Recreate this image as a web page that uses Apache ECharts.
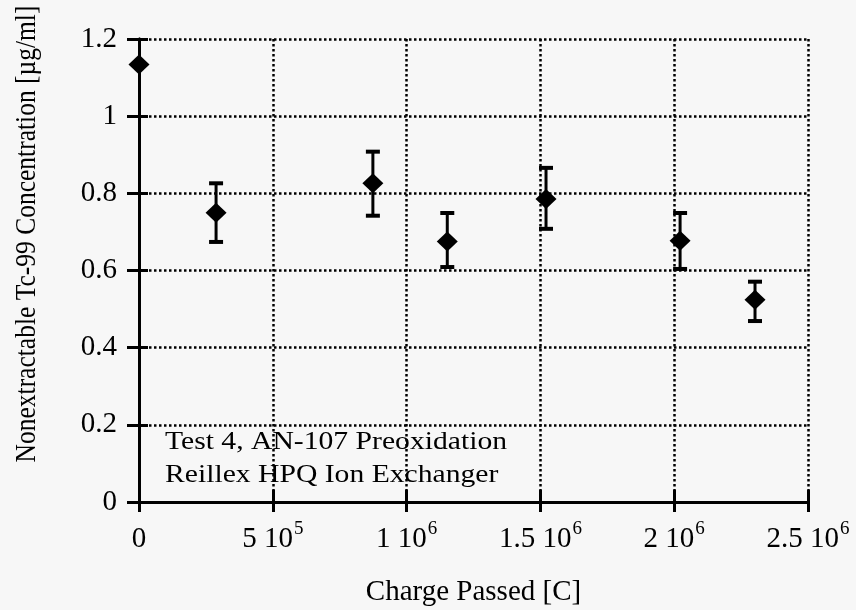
<!DOCTYPE html>
<html>
<head>
<meta charset="utf-8">
<script src="https://cdn.jsdelivr.net/npm/echarts@6/dist/echarts.min.js"></script>
<style>
  html, body { margin: 0; padding: 0; background: #f7f7f7; }
  #chart { width: 856px; height: 610px; }
</style>
</head>
<body>
<div id="chart"></div>
<script>
// Charge passed [C] at each sample
const chargePassed = [0, 288000, 874000, 1152000, 1521000, 2022000, 2302000];
// Nonextractable Tc-99 concentration [µg/ml]
const concentration = [1.134, 0.750, 0.826, 0.675, 0.785, 0.677, 0.524];
// Error bar bounds (null where no bar is drawn)
const errLower = [null, 0.674, 0.742, 0.609, 0.708, 0.604, 0.469];
const errUpper = [null, 0.826, 0.908, 0.749, 0.866, 0.749, 0.571];
// X tick labels as mantissa / exponent pairs
const xTickMantissa = { 0: '0', 500000: '5', 1000000: '1', 1500000: '1.5', 2000000: '2', 2500000: '2.5' };
const xTickExponent = { 500000: '5', 1000000: '6', 1500000: '6', 2000000: '6', 2500000: '6' };
const annotationLines = ['Test 4, AN-107 Preoxidation', 'Reillex HPQ Ion Exchanger'];

const serif = "'Liberation Serif', 'Times New Roman', serif";
const ink = '#000';

const points = chargePassed.map((x, i) => [x, concentration[i]]);
const bars = chargePassed
  .map((x, i) => [x, errLower[i], errUpper[i]])
  .filter(d => d[1] != null);

const dotted = { color: ink, width: 2.5, type: [2.5, 2.5] };

const chart = echarts.init(document.getElementById('chart'));

chart.setOption({
  backgroundColor: '#f7f7f7',
  animation: false,
  grid: { left: 139, top: 39, right: 48, bottom: 108, show: false, containLabel: false, outerBoundsMode: 'none' },
  xAxis: [{
    type: 'value', min: 0, max: 2500000, interval: 500000,
    name: 'Charge Passed [C]', nameLocation: 'middle', nameGap: 76,
    nameTextStyle: { fontFamily: serif, fontSize: 29, color: ink },
    axisLine: { lineStyle: { color: ink, width: 3 } },
    axisTick: { inside: true, length: 12, lineStyle: { color: ink, width: 3 } },
    splitLine: { show: true, lineStyle: dotted },
    axisLabel: {
      margin: 18,
      formatter: v => {
        const m = xTickMantissa[v];
        const e = xTickExponent[v];
        return e ? '{b|' + m + ' 10}{s|' + e + '}' : '{b|' + m + '}';
      },
      rich: {
        b: { fontFamily: serif, fontSize: 29, color: ink, lineHeight: 34, verticalAlign: 'bottom' },
        s: { fontFamily: serif, fontSize: 19, color: ink, lineHeight: 34, verticalAlign: 'top', padding: [0, 0, 14, 1] }
      }
    }
  }, {
    type: 'value', position: 'top', min: 0, max: 2500000, interval: 500000,
    axisLine: { show: true, lineStyle: { color: ink, width: 3 } },
    axisTick: { show: true, inside: true, length: 10, lineStyle: { color: ink, width: 3 } },
    axisLabel: { show: false }, splitLine: { show: false }
  }],
  yAxis: [{
    type: 'value', min: 0, max: 1.2, interval: 0.2,
    axisLine: { show: true, lineStyle: { color: ink, width: 3 } },
    axisTick: { show: true, inside: true, length: 9, lineStyle: { color: ink, width: 3 } },
    splitLine: { show: true, lineStyle: dotted },
    axisLabel: {
      margin: 22, fontFamily: serif, fontSize: 29, color: ink,
      formatter: v => String(Math.round(v * 10) / 10)
    }
  }, {
    type: 'value', position: 'right', min: 0, max: 1.2, interval: 0.2,
    axisLine: { show: true, lineStyle: { color: ink, width: 3 } },
    axisTick: { show: true, inside: true, length: 12, lineStyle: { color: ink, width: 3 } },
    axisLabel: { show: false }, splitLine: { show: false }
  }],
  graphic: [{
    type: 'text', x: 27, y: 234, rotation: Math.PI / 2, scaleY: 1.12,
    style: {
      text: 'Nonextractable Tc-99 Concentration [µg/ml]',
      font: '25.5px ' + serif, fill: ink,
      textAlign: 'center', textVerticalAlign: 'middle'
    }
  }, {
    type: 'text', x: 165, y: 459, scaleX: 1.14,
    style: {
      text: annotationLines.join('\n'),
      font: '26px ' + serif, fill: ink, lineHeight: 33,
      textAlign: 'left', textVerticalAlign: 'middle'
    }
  }],
  series: [{
    type: 'custom',
    data: bars,
    z: 3,
    renderItem: (params, api) => {
      const x = api.value(0);
      const lo = api.coord([x, api.value(1)]);
      const hi = api.coord([x, api.value(2)]);
      const half = 7;
      const style = { stroke: ink, lineWidth: 3, fill: null };
      return {
        type: 'group',
        children: [
          { type: 'line', shape: { x1: lo[0], y1: lo[1], x2: hi[0], y2: hi[1] }, style },
          { type: 'line', shape: { x1: hi[0] - half, y1: hi[1], x2: hi[0] + half, y2: hi[1] }, style: { stroke: ink, lineWidth: 4 } },
          { type: 'line', shape: { x1: lo[0] - half, y1: lo[1], x2: lo[0] + half, y2: lo[1] }, style: { stroke: ink, lineWidth: 4 } }
        ]
      };
    }
  }, {
    type: 'scatter',
    data: points,
    symbol: 'diamond',
    symbolSize: [21, 20],
    itemStyle: { color: ink, opacity: 1 },
    z: 4
  }]
});
</script>
</body>
</html>
